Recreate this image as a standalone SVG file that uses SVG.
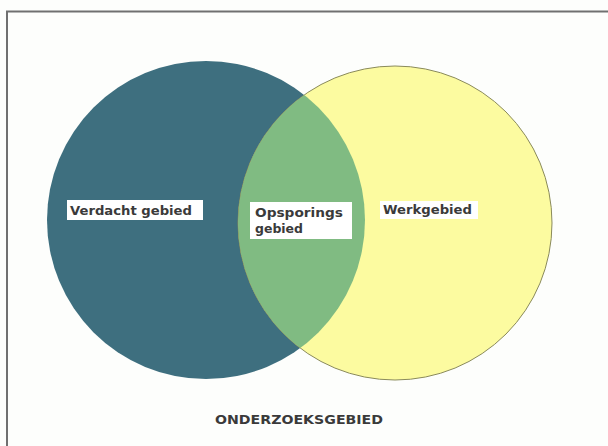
<svg xmlns="http://www.w3.org/2000/svg" width="608" height="446" viewBox="0 0 608 446">
<style>
.lbl{font-family:"DejaVu Sans","Liberation Sans",sans-serif;font-weight:bold;font-size:13px;fill:#3a3a3a}
.box{fill:#ffffff}
</style>
<defs>
<clipPath id="clipBlue"><circle cx="206" cy="220" r="159"/></clipPath>
</defs>
<rect x="0" y="0" width="608" height="446" fill="#fdfefc"/>
<rect x="7" y="11.5" width="610" height="450" fill="#fdfefc" stroke="#707070" stroke-width="2"/>
<g id="verdacht">
<circle cx="206" cy="220" r="159" fill="#3e6f7f"/>
</g>
<g id="werk">
<circle cx="395" cy="223" r="157" fill="#fcfba0" stroke="#8a8a5a" stroke-width="1"/>
</g>
<g id="opsporing">
<circle cx="395" cy="223" r="157" fill="#80bb82" clip-path="url(#clipBlue)"/>
</g>
<g id="label-verdacht">
<rect class="box" x="67" y="200" width="136" height="20"/>
<text class="lbl" x="70" y="214.5" textLength="122" lengthAdjust="spacingAndGlyphs">Verdacht gebied</text>
</g>
<g id="label-opsporing">
<rect class="box" x="250" y="202" width="102" height="37"/>
<text class="lbl" x="255" y="216.5" textLength="88" lengthAdjust="spacingAndGlyphs">Opsporings</text>
<text class="lbl" x="255" y="232.5" textLength="48" lengthAdjust="spacingAndGlyphs">gebied</text>
</g>
<g id="label-werk">
<rect class="box" x="380" y="201" width="98" height="18"/>
<text class="lbl" x="383" y="214" textLength="89" lengthAdjust="spacingAndGlyphs">Werkgebied</text>
</g>
<g id="label-onderzoek">
<text class="lbl" x="215" y="423.5" font-size="10.5" textLength="168" lengthAdjust="spacingAndGlyphs">ONDERZOEKSGEBIED</text>
</g>
<g id="connectors"/>
</svg>
